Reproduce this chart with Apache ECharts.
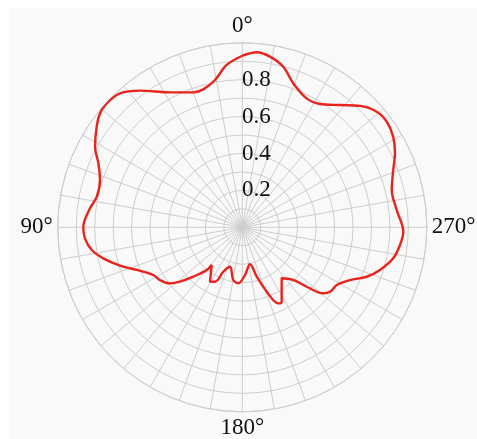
<!DOCTYPE html>
<html>
<head>
<meta charset="utf-8">
<script src="https://cdn.jsdelivr.net/npm/echarts@6/dist/echarts.min.js"></script>
<style>
html,body{margin:0;padding:0;background:#ffffff;width:477px;height:439px;overflow:hidden;}
#chart{position:absolute;left:9px;top:8px;width:468px;height:431px;}
</style>
</head>
<body>
<div id="chart"></div>
<script>
// Angles (degrees, counter-clockwise from top) and radial values
const angles = [0, 5.5, 10.5, 15.8, 19.9, 28.2, 36.8, 42.4, 47.6, 51.3, 55.4, 61.3, 66.0, 71.6, 78.1, 83.3, 90,
  94.0, 98.6, 102.6, 107.4, 112.0, 118.2, 122.6, 127.8, 131.1, 135.2, 140.2, 140.9, 149.3, 153.4, 156.8, 162.7,
  170.3, 175.9, 183.2, 191.8, 196.3, 200.8, 205.3, 207.9, 217.7, 224.1, 227.3, 230.8, 233.7, 238.6, 243.9, 248.3,
  252.8, 258.4, 263.6, 268.4, 276.4, 284.0, 290.8, 295.9, 301.0, 306.2, 310.7, 315.9, 321.4, 327.8, 333.5, 340.5,
  345.7, 350.8, 355.3, 360];
const radii = [0.930, 0.884, 0.812, 0.777, 0.778, 0.830, 0.925, 0.983, 0.996, 0.988, 0.959, 0.910, 0.854, 0.813, 0.806, 0.834, 0.862,
  0.855, 0.825, 0.772, 0.695, 0.617, 0.547, 0.530, 0.496, 0.448, 0.377, 0.301, 0.263, 0.343, 0.330, 0.262, 0.224,
  0.290, 0.304, 0.259, 0.205, 0.279, 0.373, 0.456, 0.456, 0.349, 0.397, 0.475, 0.566, 0.590, 0.600, 0.650, 0.725,
  0.781, 0.835, 0.860, 0.873, 0.842, 0.835, 0.875, 0.920, 0.954, 0.970, 0.961, 0.916, 0.848, 0.790, 0.781, 0.828,
  0.898, 0.937, 0.952, 0.930];
const radiusTickLabels = [0.2, 0.4, 0.6, 0.8];
const angleTickLabels = [0, 90, 180, 270];

const data = angles.map((a, i) => [radii[i], a]);
const chart = echarts.init(document.getElementById('chart'), null, {renderer: 'canvas'});
const gridColor = '#cdcdcd';
const font = "'Times New Roman', 'Liberation Serif', serif";
chart.setOption({
  backgroundColor: '#f9f9f9',
  animation: false,
  polar: { center: [233.3, 219.3], radius: 184.5 },
  angleAxis: {
    type: 'value', min: 0, max: 360, interval: 10, startAngle: 90, clockwise: false,
    axisLine: { show: true, lineStyle: { color: gridColor, width: 1 } },
    axisTick: { show: false },
    splitLine: { show: true, lineStyle: { color: gridColor, width: 1 } },
    axisLabel: {
      show: true, margin: 5, color: '#111', fontSize: 23, fontFamily: font,
      formatter: v => angleTickLabels.indexOf(v) >= 0 ? v + '°' : ''
    }
  },
  radiusAxis: {
    type: 'value', min: 0, max: 1, interval: 0.1,
    axisLine: { show: false }, axisTick: { show: false },
    splitLine: { show: true, lineStyle: { color: gridColor, width: 1 } },
    axisLabel: {
      show: true, color: '#111', fontSize: 23, fontFamily: font,
      align: 'center', margin: -14,
      formatter: v => {
        const r = Math.round(v * 10) / 10;
        return radiusTickLabels.indexOf(r) >= 0 ? String(r) : '';
      }
    }
  },
  series: [{
    type: 'line', coordinateSystem: 'polar', data: data,
    smooth: 0.35, symbol: 'none',
    lineStyle: { color: '#e8231b', width: 2.4 }
  }]
});
</script>
</body>
</html>
